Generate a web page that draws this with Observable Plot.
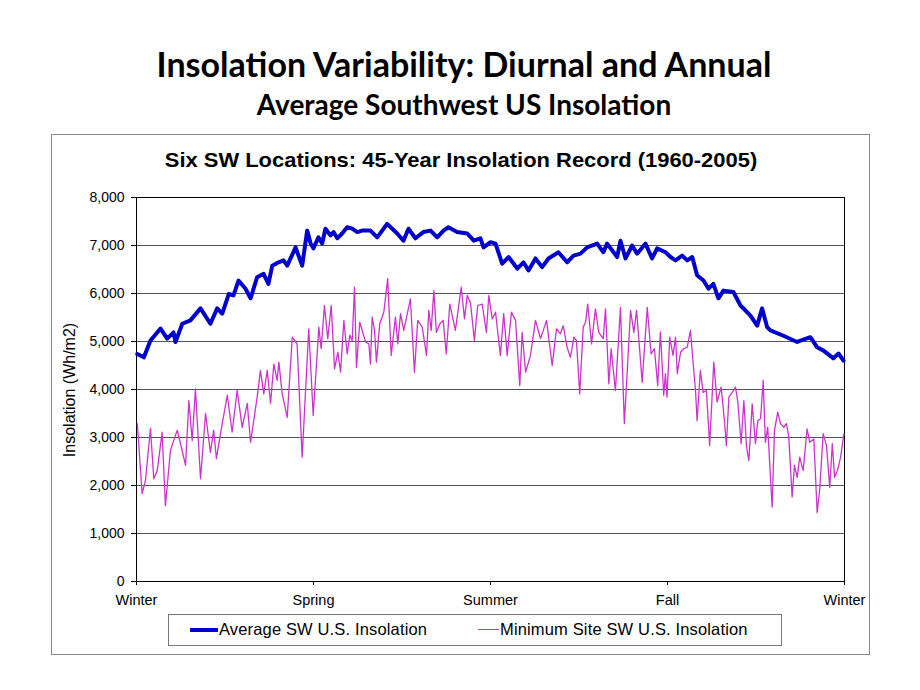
<!DOCTYPE html>
<html>
<head>
<meta charset="utf-8">
<script src="https://cdn.jsdelivr.net/npm/d3@7"></script>
<script src="https://cdn.jsdelivr.net/npm/@observablehq/plot@0.6"></script>
<style>
  html, body { margin: 0; padding: 0; background: #fff; }
  #page { position: relative; width: 920px; height: 690px; overflow: hidden; font-family: "Liberation Sans", Arial, sans-serif; }
  .slideTitle { position: absolute; left: 0; width: 928px; text-align: center; font-family: Lato, "Open Sans", sans-serif; font-weight: bold; color: #000; }
  #box { position: absolute; left: 51px; top: 134px; width: 817px; height: 519px; border: 1px solid #888; }
  #chartTitle { position: absolute; left: 0; width: 922px; top: 148px; text-align: center; font-weight: bold; font-size: 20.5px; transform: scaleX(1.07); }
  #ytitle { position: absolute; left: 70px; top: 390px; transform: translate(-50%, -50%) rotate(-90deg); font-size: 16px; white-space: nowrap; }
  #plot { position: absolute; left: 0; top: 180px; }
  #legend { position: absolute; left: 168px; top: 614px; width: 612px; height: 30px; border: 1px solid #777; font-size: 16.5px; }
  .li { position: absolute; top: 5px; white-space: nowrap; display: flex; align-items: center; letter-spacing: 0.15px; }
  .sw { display: inline-block; margin-right: 1px; }
</style>
</head>
<body>
<div id="page">
  <div class="slideTitle" style="top:43px;font-size:34px;">Insolation Variability: Diurnal and Annual</div>
  <div class="slideTitle" style="top:87px;font-size:28px;">Average Southwest US Insolation</div>
  <div id="box"></div>
  <div id="chartTitle">Six SW Locations: 45-Year Insolation Record (1960-2005)</div>
  <div id="ytitle">Insolation (Wh/m2)</div>
  <div id="plot"></div>
  <div id="legend">
    <div class="li" style="left:21px;"><span class="sw" style="width:28px;height:4px;background:#0000CC;"></span>Average SW U.S. Insolation</div>
    <div class="li" style="left:309px;"><span class="sw" style="width:21px;height:1.5px;background:#CC33CC;"></span>Minimum Site SW U.S. Insolation</div>
  </div>
</div>
<script>
// Season tick labels (positions in day of year)
const seasonDays = [0, 91.25, 182.5, 273.75, 365];
const seasonLabels = ["Winter", "Spring", "Summer", "Fall", "Winter"];
const yTicks = [0, 1000, 2000, 3000, 4000, 5000, 6000, 7000, 8000];

// Average SW U.S. Insolation (Wh/m2) by day of year
const avgDay = [0.4,3.8,7.2,12.4,15.8,19.1,20.1,23.6,27.8,33.0,38.1,41.6,44.2,47.6,50.0,52.6,56.2,58.8,62.2,65.5,68.0,70.0,73.2,75.8,77.7,82.0,85.4,88.0,89.7,91.2,93.8,95.7,97.4,100.0,101.6,103.5,106.0,108.6,111.2,113.8,116.3,120.6,124.1,129.2,134.4,137.6,140.2,143.8,147.9,151.6,155.0,158.3,160.8,165.3,170.5,173.9,177.3,178.9,182.5,185.1,188.5,191.8,196.3,199.5,202.1,205.7,209.1,212.4,217.5,222.0,225.3,228.9,232.3,237.5,240.7,242.6,247.8,249.5,252.1,255.5,258.1,262.4,265.8,268.4,272.7,275.3,277.9,281.3,283.9,286.5,289.0,292.3,294.9,297.4,300.0,302.6,307.7,311.4,316.5,320.0,322.5,325.1,326.8,333.5,340.6,347.4,350.9,354.2,359.3,361.9,364.5];
const avgVal = [4740,4670,5020,5270,5060,5190,4990,5370,5440,5690,5370,5690,5580,5990,5960,6270,6100,5900,6340,6410,6200,6580,6650,6690,6580,6960,6580,7310,7050,6940,7170,7040,7350,7210,7280,7150,7250,7380,7350,7280,7310,7310,7170,7450,7250,7100,7350,7150,7280,7310,7170,7310,7380,7280,7250,7100,7150,6960,7070,7040,6620,6760,6520,6650,6480,6730,6550,6730,6860,6650,6790,6830,6960,7040,6860,7040,6760,7100,6730,7000,6830,7040,6730,6940,6860,6760,6690,6790,6690,6760,6380,6270,6100,6200,5900,6060,6030,5750,5540,5330,5690,5300,5230,5120,4990,5090,4880,4810,4650,4750,4600];

// Minimum Site SW U.S. Insolation (Wh/m2) by day of year
const minDay = [0.4,2.9,4.6,7.2,8.9,10.7,13.2,14.9,17.5,19.2,21.0,22.7,25.3,27.0,28.7,30.4,33.0,35.6,38.1,39.8,41.2,43.3,46.8,49.3,51.9,54.5,57.1,58.8,62.2,63.9,65.6,67.4,69.1,70.8,72.5,73.4,75.1,77.7,80.3,82.8,85.4,88.8,91.1,94.0,95.2,96.9,98.6,100.4,102.1,103.8,105.2,106.9,108.6,110.0,111.2,112.4,113.4,115.1,118.1,119.8,120.6,121.5,122.7,123.7,125.4,127.5,129.5,131.3,133.5,134.7,136.1,137.8,141.2,143.3,145.0,147.3,149.5,150.7,151.9,153.3,154.6,156.4,158.1,159.7,161.5,164.4,167.4,169.1,170.5,172.2,174.2,175.9,178.2,180.4,181.6,183.4,185.1,187.6,189.3,191.1,193.3,195.4,197.6,198.8,200.6,203.1,205.7,208.3,211.4,214.3,216.5,218.6,220.0,222.0,223.7,225.5,226.8,228.5,230.3,231.5,232.6,234.6,236.6,238.3,240.6,241.8,243.5,244.7,246.9,249.5,251.5,254.7,256.4,257.8,260.7,263.3,265.3,267.0,268.7,270.1,271.8,272.7,273.5,274.9,276.6,277.9,278.8,280.5,282.1,283.9,285.6,287.0,288.2,289.0,290.7,292.1,293.8,295.5,297.6,299.3,301.4,303.1,304.1,305.4,307.1,308.8,310.0,311.7,313.1,314.5,315.7,317.4,319.1,320.3,321.7,323.1,324.2,325.4,327.7,328.9,330.6,332.0,333.7,335.1,336.3,338.0,339.2,340.6,341.9,343.7,345.7,347.1,349.2,350.9,352.2,354.0,355.7,357.4,358.7,359.9,361.3,363.0,364.7];
const minVal = [3290,1830,2100,3190,2140,2310,3110,1580,2730,2940,3150,2870,2420,3770,2940,4010,2140,3500,2690,3150,2560,3080,3880,3110,3980,3210,3710,2900,3840,4400,3910,4400,3710,4530,4190,4570,3910,3420,5090,4950,2590,5260,3460,5300,4850,5750,5060,5750,4430,4780,4360,5440,4740,5130,5020,6130,4460,5400,4990,4950,4530,5510,5230,4570,5370,5610,6310,4710,5510,4950,5580,5230,5890,4360,5440,5300,4710,5650,5230,6060,5190,5370,5440,4740,5780,5230,6130,5470,5960,5800,5020,5750,5780,5190,5960,5470,5610,4710,5580,4710,5610,5440,4080,5190,4360,4710,5440,5060,5440,4500,5260,5160,5330,4880,4670,5090,5020,3910,5300,5400,5780,4950,5680,5190,5060,5680,4120,4850,3980,5710,3290,5650,5190,5650,4150,5710,4740,4850,4080,5200,3880,4330,3840,5090,4710,5090,4330,4780,4850,4880,5230,4530,3980,3350,4400,3940,3980,2830,4570,3740,4050,3350,2830,3840,3940,4050,3740,2870,3770,2800,2520,3700,2870,3350,3390,4190,2900,3210,1550,3150,3530,3290,3210,3290,3000,1760,2420,2170,2590,2310,3180,2900,2970,1440,1900,3080,2830,1960,2870,2170,2310,2590,3080];

const avgData = avgDay.map((d, i) => ({day: d, value: avgVal[i]}));
const minData = minDay.map((d, i) => ({day: d, value: minVal[i]}));

const chart = Plot.plot({
  width: 920,
  height: 430,
  marginLeft: 136,
  marginRight: 76,
  marginTop: 17,
  marginBottom: 29,
  style: { fontFamily: "'Liberation Sans', Arial, sans-serif", fontSize: "14px", color: "#000", background: "transparent" },
  x: { domain: [0, 365] },
  y: { domain: [0, 8000] },
  marks: [
    Plot.ruleY(yTicks.slice(1, -1), { stroke: "#555", strokeWidth: 1 }),
    Plot.frame({ stroke: "#000", strokeWidth: 1 }),
    Plot.axisY({ ticks: yTicks, tickFormat: d3.format(","), tickSize: 5, tickPadding: 7, label: null, fontSize: 14 }),
    Plot.axisX({ ticks: seasonDays, tickFormat: (d, i) => seasonLabels[i], tickSize: 4, tickPadding: 9, label: null, fontSize: 14.5 }),
    Plot.line(minData, { x: "day", y: "value", stroke: "#CC33CC", strokeWidth: 1.3 }),
    Plot.line(avgData, { x: "day", y: "value", stroke: "#0000CC", strokeWidth: 4, strokeLinejoin: "round" })
  ]
});
document.getElementById("plot").appendChild(chart);
</script>
</body>
</html>
